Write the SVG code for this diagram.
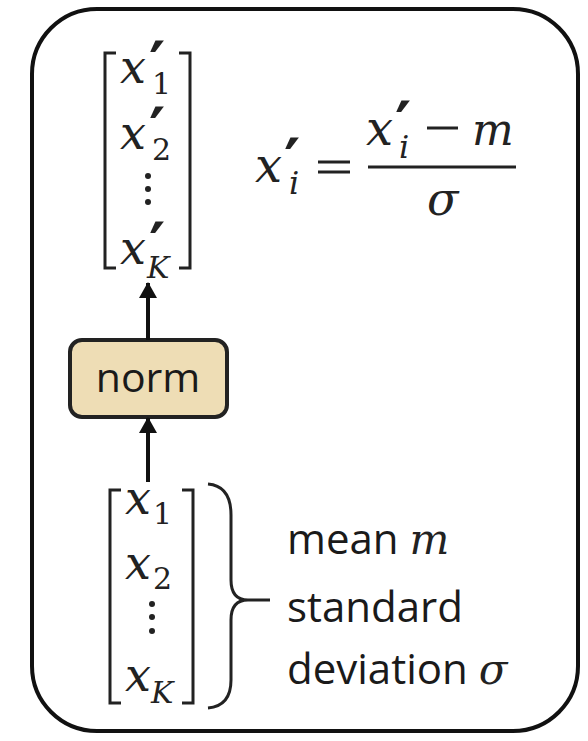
<svg xmlns="http://www.w3.org/2000/svg" width="588" height="741" viewBox="0 0 588 741">
<style>
.m{font-family:"DejaVu Serif","Liberation Serif",serif;font-style:italic;fill:#222}
.mu{font-family:"DejaVu Serif","Liberation Serif",serif;fill:#222}
.p{font-family:"DejaVu Sans","Liberation Sans",sans-serif;font-weight:bold;fill:#222}
.s{font-family:"Open Sans","Liberation Sans",sans-serif;fill:#1a1a1a}
.br{fill:none;stroke:#222;stroke-width:3}
.dot{fill:#222}
</style>
<defs>
<marker id="ah" markerUnits="userSpaceOnUse" markerWidth="16" markerHeight="18" refX="15" refY="9" orient="auto" viewBox="0 0 16 18">
<path d="M0,0 L16,9 L0,18 Z" fill="#111"/>
</marker>
</defs>
<rect id="frame" x="32" y="9" width="546" height="722" rx="65" fill="#fff" stroke="#111" stroke-width="4"/>
<g id="vec-out">
<path class="br" d="M116 53 H105 V268 H116 M179 53 H190 V268 H179"/>
<text class="m" x="120" y="83" font-size="46">x</text>
<text class="p" x="149" y="86" font-size="62">′</text>
<text class="mu" x="152" y="94" font-size="30">1</text>
<text class="m" x="120" y="149" font-size="46">x</text>
<text class="p" x="149" y="152" font-size="62">′</text>
<text class="mu" x="152" y="160" font-size="30">2</text>
<circle class="dot" cx="148" cy="176" r="3"/>
<circle class="dot" cx="148" cy="189" r="3"/>
<circle class="dot" cx="148" cy="202" r="3"/>
<text class="m" x="120" y="264" font-size="46">x</text>
<text class="p" x="149" y="267" font-size="62">′</text>
<text class="m" x="147" y="278" font-size="30">K</text>
</g>
<g id="formula">
<text class="m" x="255" y="182" font-size="48">x</text>
<text class="p" x="284" y="183" font-size="62">′</text>
<text class="m" x="289" y="194" font-size="32">i</text>
<path d="M318 162 H350 M318 172 H350" stroke="#222" stroke-width="3"/>
<text class="m" x="366" y="145" font-size="48">x</text>
<text class="p" x="395" y="146" font-size="62">′</text>
<text class="m" x="399" y="158" font-size="32">i</text>
<path d="M427 128 H458" stroke="#222" stroke-width="3"/>
<text class="m" x="472" y="145" font-size="44">m</text>
<path d="M368 167 H516" stroke="#222" stroke-width="3"/>
<text class="m" x="427" y="215" font-size="46">σ</text>
</g>
<g id="norm">
<rect x="70" y="340" width="157" height="77" rx="12" fill="#EEDDB5" stroke="#222" stroke-width="4"/>
<text class="s" x="148" y="392" font-size="41" text-anchor="middle">norm</text>
</g>
<g id="vec-in">
<path class="br" d="M121 490 H110 V703 H121 M182 490 H193 V703 H182"/>
<text class="m" x="125" y="514" font-size="46">x</text>
<text class="mu" x="153" y="524" font-size="30">1</text>
<text class="m" x="125" y="579" font-size="46">x</text>
<text class="mu" x="153" y="589" font-size="30">2</text>
<circle class="dot" cx="152" cy="604" r="3"/>
<circle class="dot" cx="152" cy="617" r="3"/>
<circle class="dot" cx="152" cy="631" r="3"/>
<text class="m" x="125" y="691" font-size="46">x</text>
<text class="m" x="151" y="703" font-size="30">K</text>
<path class="br" d="M208 484 Q231 486 231 515 V580 Q231 600 248 600 H270 M248 600 Q231 600 231 620 V680 Q231 706 208 708"/>
</g>
<g id="stats">
<text class="s" x="287" y="554" font-size="42">mean <tspan class="m" font-size="42">m</tspan></text>
<text class="s" x="287" y="622" font-size="42">standard</text>
<text class="s" x="287" y="684" font-size="42">deviation <tspan class="m" font-size="42">σ</tspan></text>
</g>
<g id="connectors" stroke="#111" stroke-width="4" fill="none">
<line x1="148" y1="340" x2="148" y2="283" marker-end="url(#ah)"/>
<line x1="148" y1="482" x2="148" y2="418" marker-end="url(#ah)"/>
</g>
</svg>
